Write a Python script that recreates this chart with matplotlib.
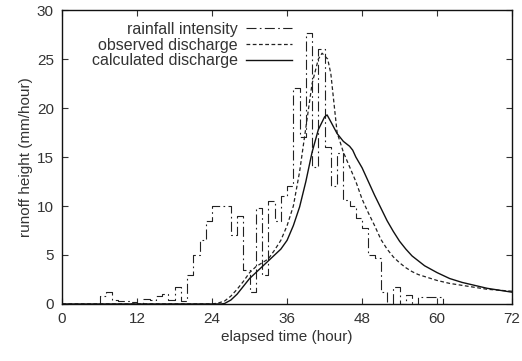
import numpy as np
import matplotlib
matplotlib.use("Agg")
import matplotlib.pyplot as plt

# hourly rainfall intensity (mm/hour), value holds from t to t+1
rain_t = np.arange(0, 63)
rain_v = [0, 0, 0, 0, 0, 0, 0.8, 1.2, 0.4, 0.3,
          0.3, 0.2, 0.0, 0.5, 0.4, 0.8, 1.0, 0.4, 1.7, 0.3,
          3.0, 5.0, 6.5, 8.5, 10.0, 10.0, 10.0, 7.0, 9.0, 3.5,
          1.2, 9.8, 3.0, 10.5, 8.5, 11.0, 12.0, 22.0, 17.0, 27.7,
          14.0, 26.0, 16.0, 12.0, 15.4, 10.6, 10.0, 8.8, 7.8, 5.0,
          4.7, 1.2, 0.0, 1.7, 0.0, 0.9, 0.0, 0.7, 0.7, 0.7,
          0.7, 0.0, 0.0]

# observed discharge
obs_t = [0, 24, 25, 26, 27, 28, 29, 30, 31, 32, 33, 34, 35, 36, 37, 38, 39, 40,
         41, 41.6, 42.5, 43, 43.5, 44, 45, 46, 47, 48, 49, 50, 51, 52, 53, 54,
         55, 56, 57, 58, 60, 62, 64, 66, 68, 70, 72]
obs_v = [0, 0, 0.1, 0.3, 0.8, 1.5, 2.3, 3.2, 3.8, 4.2, 4.6, 5.5, 6.5, 8.0, 10.0,
         13.5, 18.0, 22.5, 25.0, 25.6, 25.0, 23.5, 20.5, 17.5, 15.5, 14.0, 12.5,
         10.7, 9.3, 8.0, 6.6, 5.6, 4.8, 4.2, 3.7, 3.3, 3.0, 2.8, 2.4, 2.1, 1.9,
         1.7, 1.5, 1.4, 1.3]

# calculated discharge
calc_t = [0, 25.5, 26, 27, 28, 29, 30, 31, 32, 33, 34, 35, 36, 37, 38, 39, 40,
          41, 42, 42.4, 43, 44, 45, 46, 46.5, 47, 48, 49, 50, 51, 52, 53, 54,
          55, 56, 57, 58, 60, 62, 64, 66, 68, 70, 72]
calc_v = [0, 0, 0.05, 0.4, 1.0, 1.8, 2.6, 3.2, 3.8, 4.4, 5.0, 5.6, 6.5, 8.0,
          9.9, 12.5, 15.5, 17.8, 19.1, 19.3, 18.6, 17.4, 16.6, 16.1, 15.7, 15.0,
          13.9, 12.5, 11.1, 9.8, 8.5, 7.4, 6.4, 5.6, 4.9, 4.4, 3.9, 3.2, 2.6,
          2.2, 1.9, 1.6, 1.4, 1.2]

plt.rcParams['font.family'] = ['Liberation Sans', 'DejaVu Sans']
fig = plt.figure(figsize=(5.22, 3.61), dpi=100)
ax = fig.add_axes([0.119, 0.158, 0.862, 0.814])

ax.step(rain_t, rain_v, where='post', color='#222222', lw=0.8,
        linestyle=(0, (9, 3, 1.5, 3)), label='rainfall intensity')
ax.plot(obs_t, obs_v, color='#222222', lw=0.9, linestyle=(0, (3, 2)),
        label='observed discharge')
ax.plot(calc_t, calc_v, color='#111111', lw=1.0, label='calculated discharge')

ax.set_xlim(0, 72)
ax.set_ylim(0, 30)
ax.set_xticks(range(0, 73, 12))
ax.set_yticks(range(0, 31, 5))
ax.tick_params(direction='in', top=True, right=True, length=4, labelsize=11,
               colors='#333333', pad=6)
for s in ax.spines.values():
    s.set_color('#111111')
    s.set_linewidth(1.0)

ax.set_xlabel('elapsed time (hour)', fontsize=11, color='#333333', labelpad=3)
ax.set_ylabel('runoff height (mm/hour)', fontsize=11, color='#333333', labelpad=3)

leg = ax.legend(loc='upper right', bbox_to_anchor=(0.511, 0.96), frameon=False,
                markerfirst=False, fontsize=11.5, borderpad=0, borderaxespad=0,
                labelspacing=0.05, handlelength=2.9, handletextpad=0.5)
for t in leg.get_texts():
    t.set_color('#333333')

fig.savefig('out.png', dpi=100)
